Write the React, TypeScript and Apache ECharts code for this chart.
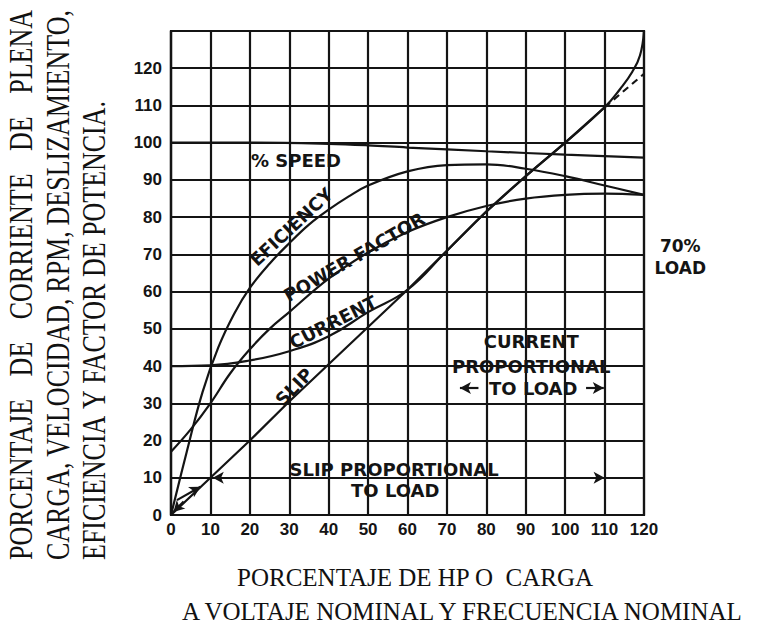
import React, { useEffect, useRef } from 'react';
import * as echarts from 'echarts';

// ---- data (percent of rated HP / load on x) ----
const speedPts: number[][] = [[0, 100], [20, 100], [40, 99.7], [50, 99.3], [60, 98.7], [80, 97.7], [100, 96.8], [120, 96]];
const efficiencyPts: number[][] = [[0, 0], [4, 17], [8, 33], [12, 45], [16, 54], [20, 61], [25, 67.5], [30, 73], [35, 78], [40, 82], [45, 85.5], [50, 88.5], [60, 92.3], [70, 94], [80, 94.2], [90, 93], [100, 91], [110, 88.5], [120, 86]];
const powerFactorPts: number[][] = [[0, 17], [5, 23], [10, 30], [15, 38], [20, 44.5], [25, 50], [30, 54.5], [40, 63.5], [50, 70.5], [60, 76], [70, 80], [80, 83], [90, 85], [100, 86], [110, 86.3], [120, 86]];
const currentPts: number[][] = [[0, 40], [10, 40.2], [20, 41.5], [30, 44], [40, 48], [50, 54.5], [60, 60.5], [70, 71], [80, 81.5], [90, 91], [100, 100], [110, 109.5], [114, 114.5], [117, 119], [119, 123.5], [120, 130]];
const slipPts: number[][] = [[0, 0], [10, 10], [20, 20], [30, 30.5], [40, 40.5], [50, 50.5], [60, 60.5], [70, 71], [80, 81.5], [90, 91], [100, 100], [110, 109.5]];
const slipDashedPts: number[][] = [[110, 109.5], [120, 118.5]];

const xMin = 0, xMax = 120, xStep = 10;
const yMin = 0, yMax = 130, yStep = 10;

// curve labels: [text, x, y (data units), rotation deg]
const curveLabels: [string, number, number, number][] = [
  ['% SPEED', 31.7, 95.1, 0],
  ['EFICIENCY', 30.5, 77.4, 43],
  ['POWER FACTOR', 46.5, 69.3, 30],
  ['CURRENT', 41.1, 51.8, 27],
  ['SLIP', 31.2, 34.4, 46],
];
const blockLabels: [string, number, number][] = [
  ['SLIP PROPORTIONAL', 56.6, 12.1],
  ['TO LOAD', 56.9, 6.7],
  ['CURRENT', 91.4, 46.5],
  ['PROPORTIONAL', 91.4, 40],
  ['TO LOAD', 91.9, 34.1],
  ['70%', 129.2, 72.3],
  ['LOAD', 129.2, 66.4],
];
// arrow annotations: from -> to (arrowhead at "to")
const arrows: number[][][] = [
  [[78, 34.1], [73.3, 34.1]],
  [[105.3, 34.1], [109.8, 34.1]],
  [[60, 10], [10.6, 10]],
  [[60, 10], [110, 10]],
  [[1.5, 4], [7.5, 7.6]],
  [[3.2, 3.6], [0.6, 0.8]],
];

const yTitleLines = [
  'PORCENTAJE DE CORRIENTE DE PLENA',
  'CARGA, VELOCIDAD, RPM, DESLIZAMIENTO,',
  'EFICIENCIA Y FACTOR DE POTENCIA.',
];
const xTitleLines = ['PORCENTAJE DE HP O  CARGA', 'A VOLTAJE NOMINAL Y FRECUENCIA NOMINAL'];

const INK = '#141414';

export default function App() {
  const ref = useRef<HTMLDivElement>(null);
  useEffect(() => {
    const chart = echarts.init(ref.current!, null, { renderer: 'svg', width: 758, height: 623 });
    const lineSeries = (data: number[][], smooth: number | boolean, dashed = false) => ({
      type: 'line',
      data,
      showSymbol: false,
      smooth,
      silent: true,
      lineStyle: { color: INK, width: 2.2, type: dashed ? [7, 5] : 'solid' },
    });
    chart.setOption({
      animation: false,
      grid: { left: 171, right: 114, top: 31, bottom: 108, show: true, borderColor: INK, borderWidth: 2.2 },
      xAxis: {
        type: 'value', min: xMin, max: xMax, interval: xStep,
        axisLine: { show: true, lineStyle: { color: INK, width: 2.2 } },
        axisTick: { show: false },
        splitLine: { show: true, lineStyle: { color: INK, width: 2.2 } },
        axisLabel: { margin: 6, color: INK, fontFamily: 'Liberation Sans', fontWeight: 'bold', fontSize: 17 },
      },
      yAxis: {
        type: 'value', min: yMin, max: yMax, interval: yStep,
        axisLine: { show: true, lineStyle: { color: INK, width: 2.2 } },
        axisTick: { show: false },
        splitLine: { show: true, lineStyle: { color: INK, width: 2.2 } },
        axisLabel: {
          margin: 9, color: INK, fontFamily: 'Liberation Sans', fontWeight: 'bold', fontSize: 17,
          formatter: (v: number) => (v === yMax ? '' : String(v)),
        },
      },
      series: [
        lineSeries(speedPts, 0.4),
        lineSeries(efficiencyPts, 0.4),
        lineSeries(powerFactorPts, 0.4),
        lineSeries(currentPts, 0.45),
        lineSeries(slipPts, false),
        lineSeries(slipDashedPts, false, true),
        {
          type: 'line', data: [], silent: true,
          markLine: {
            silent: true, animation: false,
            symbol: ['none', 'arrow'], symbolSize: [9, 11],
            label: { show: false },
            lineStyle: { color: INK, width: 2.2, type: 'solid' },
            data: arrows.map(([a, b]) => [{ coord: a }, { coord: b }]),
          },
        },
      ],
    });

    const toPx = (p: number[]) => chart.convertToPixel({ seriesIndex: 0 }, p) as number[];
    const annFont = 'bold 18px "DejaVu Sans"';
    const graphics: any[] = [];
    curveLabels.forEach(([t, x, y, r]) => {
      const [px, py] = toPx([x, y]);
      graphics.push({ type: 'text', x: px, y: py, rotation: (r * Math.PI) / 180, silent: true,
        style: { text: t, font: annFont, fill: INK, align: 'center', verticalAlign: 'middle' } });
    });
    blockLabels.forEach(([t, x, y]) => {
      const [px, py] = toPx([x, y]);
      graphics.push({ type: 'text', x: px, y: py, silent: true,
        style: { text: t, font: t === '70%' || t === 'LOAD' ? 'bold 17px "DejaVu Sans"' : annFont, fill: INK, align: 'center', verticalAlign: 'middle' } });
    });

    // left rotated, justified title
    const serifFont = '26px "Liberation Serif"';
    const canvas = document.createElement('canvas');
    const ctx = canvas.getContext('2d')!;
    ctx.font = serifFont;
    const colX = [21, 58, 94];
    const yStart = 560, yEnd = 10;
    yTitleLines.forEach((line, li) => {
      const words = line.split(' ');
      const widths = words.map((w) => ctx.measureText(w).width);
      const total = widths.reduce((a, b) => a + b, 0);
      const justify = li < yTitleLines.length - 1;
      const gap = justify ? (yStart - yEnd - total) / (words.length - 1) : ctx.measureText(' ').width;
      let off = 0;
      words.forEach((w, i) => {
        graphics.push({ type: 'text', x: colX[li], y: yStart - off, rotation: Math.PI / 2, scaleY: 1.3, silent: true,
          style: { text: w, font: serifFont, fill: '#111', align: 'left', verticalAlign: 'middle' } });
        off += widths[i] + gap;
      });
    });
    // bottom title
    const xTitlePos = [[237, 577], [182, 611]];
    xTitleLines.forEach((t, i) => {
      graphics.push({ type: 'text', x: xTitlePos[i][0], y: xTitlePos[i][1], silent: true,
        style: { text: t, font: '25px "Liberation Serif"', fill: '#111', align: 'left', verticalAlign: 'middle' } });
    });
    chart.setOption({ graphic: graphics });
    return () => chart.dispose();
  }, []);
  return <div ref={ref} style={{ position: 'absolute', left: 0, top: 0, width: 758, height: 623 }} />;
}
